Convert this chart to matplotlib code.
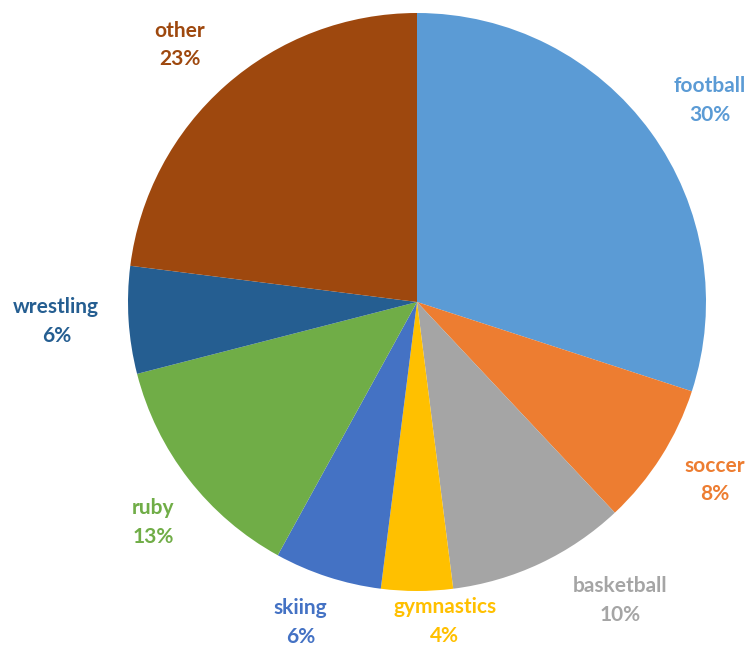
import numpy as np
import matplotlib.pyplot as plt

# sport shares, clockwise from 12 o'clock
sports = ['football', 'soccer', 'basketball', 'gymnastics', 'skiing', 'ruby', 'wrestling', 'other']
shares = [30, 8, 10, 4, 6, 13, 6, 23]
colors = ['#5B9BD5', '#ED7D31', '#A5A5A5', '#FFC000', '#4472C4', '#70AD47', '#255E91', '#9E480E']

# how far out each label sits (in pie radii) and a small angle nudge in degrees
label_dist = [1.23, 1.20, 1.25, 1.11, 1.18, 1.19, 1.25, 1.21]
label_nudge = [-1.4, 1.5, 9, 5, -2, 2, -0.5, 1.3]

fig = plt.figure(figsize=(7.52, 6.5), dpi=100)
ax = fig.add_axes([0, 0, 1, 1])

wedges, _ = ax.pie(shares, colors=colors, startangle=90, counterclock=False,
                   wedgeprops=dict(linewidth=0))

total = sum(shares)
cum = 0
for name, val, col, d, nudge in zip(sports, shares, colors, label_dist, label_nudge):
    mid = 90 - 360 * (cum + val / 2) / total + nudge
    cum += val
    x = d * np.cos(np.radians(mid))
    y = d * np.sin(np.radians(mid))
    ax.text(x, y, f'{name}\n{val}%', ha='center', va='center', color=col,
            fontsize=15, fontweight='bold', family='Lato', linespacing=1.55)

# centre at (417, 302) px from top-left, radius 289 px
r = 289
ax.set_xlim(-417 / r, (752 - 417) / r)
ax.set_ylim(-(650 - 302) / r, 302 / r)
ax.axis('off')

fig.savefig('out.png', dpi=100)
